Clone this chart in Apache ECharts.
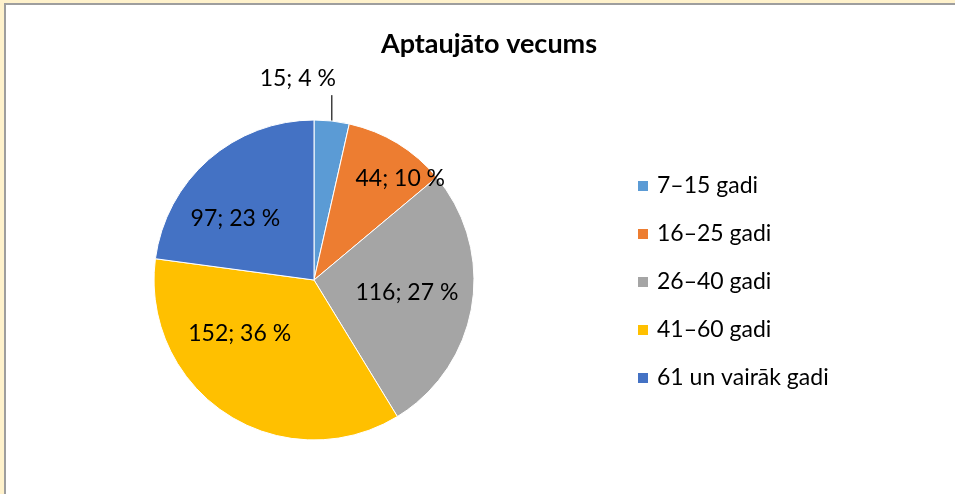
<!DOCTYPE html>
<html>
<head>
<meta charset="utf-8">
<script src="https://cdn.jsdelivr.net/npm/echarts@6/dist/echarts.min.js"></script>
<style>
  html, body { margin: 0; padding: 0; background: #FFF2CC; overflow: hidden; }
  #frame {
    position: absolute; left: 4px; top: 3px; width: 960px; height: 500px;
    background: #fff; border-left: 2px solid #9e9e9e; border-top: 2px solid #9e9e9e;
  }
  #chart { position: absolute; left: 0; top: 0; width: 955px; height: 494px; }
</style>
</head>
<body>
<div id="frame"></div>
<div id="chart"></div>
<script>
var titleText = 'Aptaujāto vecums';
var ageGroups = ['7–15 gadi', '16–25 gadi', '26–40 gadi', '41–60 gadi', '61 un vairāk gadi'];
var counts = [15, 44, 116, 152, 97];
var sliceColors = ['#5B9BD5', '#ED7D31', '#A5A5A5', '#FFC000', '#4472C4'];

var fontName = 'Lato';
// nudges so labels sit where the original put them
var labelNudge = [[-80, -17], [43, -31], [11, -1], [-29, -16], [-24, 1]];

var pieData = [];
for (var i = 0; i < counts.length; i++) {
    var item = {
        name: ageGroups[i],
        value: counts[i],
        itemStyle: { color: sliceColors[i] }
    };
    if (i === 0) {
        item.label = { position: 'outside' };
        item.labelLine = { show: true };
    }
    pieData.push(item);
}

var myChart = echarts.init(document.getElementById('chart'));
var option = {
    animation: false,
    title: {
        text: titleText,
        left: 484,
        textAlign: 'center',
        top: 26,
        textStyle: { fontFamily: fontName, fontSize: 27, fontWeight: 'bold', color: '#000' }
    },
    legend: {
        orient: 'vertical',
        left: 636,
        top: 174,
        padding: 0,
        itemWidth: 12,
        itemHeight: 12,
        itemGap: 24,
        icon: 'rect',
        textStyle: { fontFamily: fontName, fontSize: 23, lineHeight: 24, color: '#000', padding: [0, 0, 0, 3] },
        data: ageGroups
    },
    series: [{
        type: 'pie',
        center: [314, 280],
        radius: 160,
        startAngle: 90,
        clockwise: true,
        data: pieData,
        itemStyle: { borderColor: '#fff', borderWidth: 1 },
        label: {
            show: true,
            position: 'inside',
            fontFamily: fontName,
            fontSize: 23,
            color: '#000',
            formatter: function (p) {
                return p.value + '; ' + Math.round(p.percent) + ' %';
            }
        },
        labelLine: { show: false, length: 26, length2: 0, lineStyle: { color: '#404040', width: 1.5 } },
        labelLayout: function (params) {
            var n = labelNudge[params.dataIndex];
            var out = { dx: n[0], dy: n[1] };
            var pts = params.labelLinePoints;
            if (pts) {
                // straight vertical leader from the slice edge
                out.labelLinePoints = [
                    [pts[0][0], pts[0][1]],
                    [pts[0][0], pts[1][1]],
                    [pts[0][0], pts[1][1]]
                ];
            }
            return out;
        }
    }]
};
myChart.setOption(option);
</script>
</body>
</html>
